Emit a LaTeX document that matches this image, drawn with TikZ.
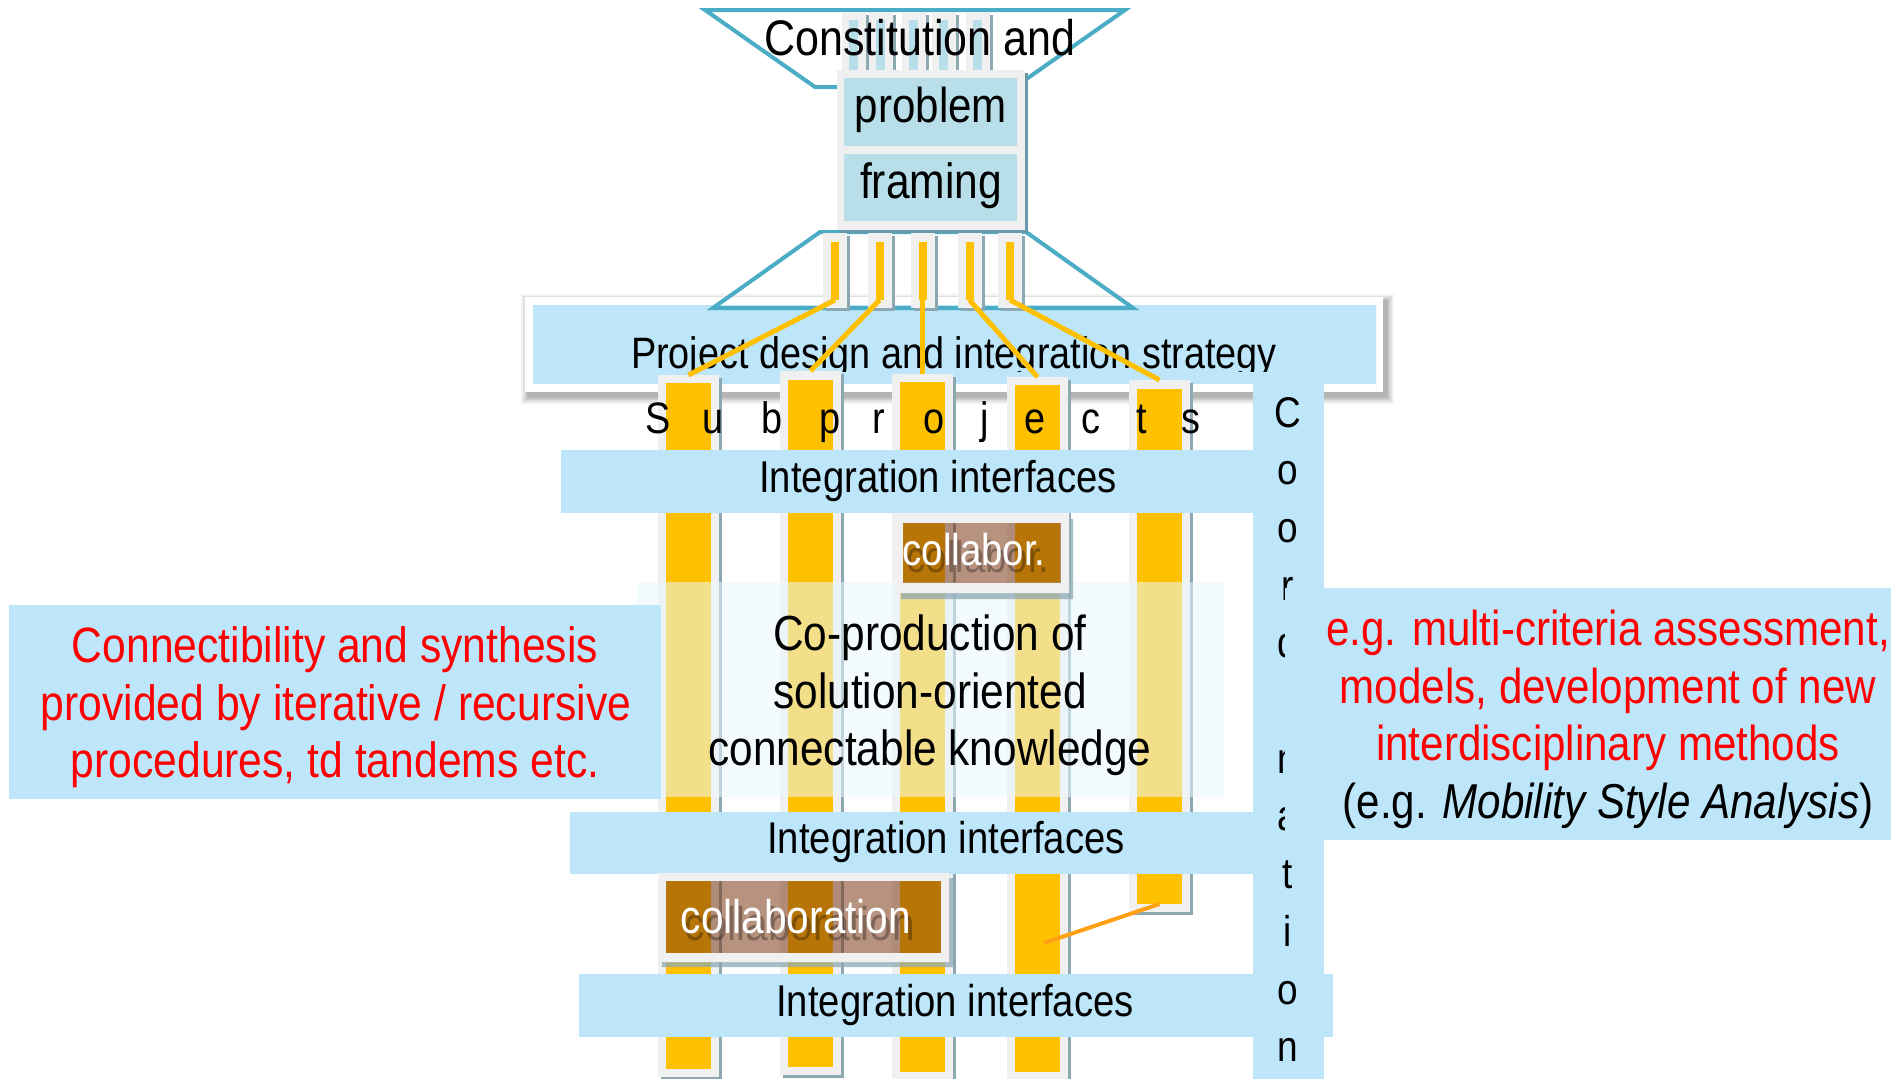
\documentclass[tikz,border=0pt]{standalone}
\usepackage{fontspec}
\setmainfont{Liberation Sans}[FakeStretch=0.86]
\usetikzlibrary{fit,shadows}

\definecolor{bandblue}{RGB}{189,230,250}
\definecolor{frameblue}{RGB}{184,223,233}
\definecolor{trapteal}{RGB}{75,172,198}
\definecolor{panelgray}{RGB}{240,240,240}
\definecolor{edgeshade}{RGB}{140,168,178}
\definecolor{boxshade}{RGB}{105,152,168}
\definecolor{bargold}{RGB}{255,192,0}
\definecolor{linkorange}{RGB}{255,160,20}
\definecolor{veilwhite}{RGB}{233,248,254}
\definecolor{clay}{RGB}{120,52,14}
\definecolor{alertred}{RGB}{255,0,0}

\newcommand\px[1]{\fontsize{#1}{#1}\selectfont}

\tikzset{
  plain/.style={inner sep=0pt, outer sep=0pt},
  panel/.style={plain, fill=panelgray},
  barshade/.style={drop shadow={shadow xshift=3pt, shadow yshift=-3pt, fill=edgeshade, opacity=1}},
  gold/.style={plain, fill=bargold},
  band/.style={plain, fill=bandblue},
  trap/.style={draw=trapteal, line width=4pt, line join=miter},
  link/.style={draw=bargold, line width=5pt},
  txt/.style={anchor=base, inner sep=0pt, outer sep=0pt},
}

\begin{document}
\begin{tikzpicture}[x=1pt,y=-1pt]
\useasboundingbox (0,0) rectangle (1891,1079);
\fill[white] (0,0) rectangle (1891,1079);

% project design panel with a soft shadow
\foreach \d/\o in {8/0.05,6/0.07,4/0.09,2/0.11}
  \fill[black,opacity=\o] (525-\d+4,297-\d+5) rectangle (1383+\d+3,392+\d+4);
\node[plain, fill=white, fit={(525,297) (1383,392)}] (design) {};
\node[band, fit={(533,305) (1376,384)}] (designin) {};

% funnels above and below the framing block
\draw[trap] (820,232) -- (1026,232) -- (1133,308) -- (713,308) -- cycle;
\draw[trap] (705,10) -- (1125,10) -- (1015,87) -- (815,87) -- cycle;

% upper tabs
\foreach \c [count=\i] in {854,881,914,944,978} {
  \node[panel, barshade, fit={(\c-12,12) (\c+12,70)}] (uptab\i) {};
  \node[plain, fill=frameblue, fit={(\c-5,20) (\c+4,70)}] (upin\i) {};
}

% framing block
\node[panel, drop shadow={shadow xshift=3pt, shadow yshift=-3pt, fill=boxshade, opacity=1},
      fit={(837,70) (1025,230)}] (frame) {};
\node[plain, fill=frameblue, fit={(844,78) (1017,146)}] (frameA) {};
\node[plain, fill=frameblue, fit={(844,154) (1017,221)}] (frameB) {};

% lower tabs
\foreach \c [count=\i] in {835,879.5,922.5,969.5,1010} {
  \node[panel, barshade, fit={(\c-12,233) (\c+12,308)}] (lowtab\i) {};
  \node[gold, fit={(\c-4,242) (\c+4,300)}] (tabgold\i) {};
}

\node[txt, font=\px{50}] (constit) at (920,55) {Constitution and};
\node[txt, font=\px{49}] (problem) at (931,122) {problem};
\node[txt, font=\px{49.5}] (framing) at (931,198) {framing};

\begin{scope}
  \clip (525,297) rectangle (1383,371);
  \node[txt, font=\px{44}] (designtxt) at (954,368) {Project design and integration strategy};
\end{scope}

% subproject bars
\foreach \i/\l/\t/\b/\yt/\yb in {1/658/375/1077/383/1069, 2/780/371/1075/380/1067,
    3/892/374/1080/382/1072, 4/1007/377/1080/385/1072, 5/1129/380/912/389/904} {
  \node[panel, barshade, fit={(\l,\t) (\l+61,\b)}] (bar\i) {};
  \node[gold, fit={(\l+8,\yt) (\l+53,\yb)}] (bary\i) {};
}

\foreach \i in {1,...,5}
  \draw[link] (tabgold\i.south) -- (bar\i.north);

\foreach \ch/\x [count=\i] in {S/658,u/713,b/772,p/830,r/879,o/934,j/985,e/1035,c/1091,t/1142,s/1191}
  \node[txt, font=\px{44}] (sub\i) at (\x,433) {\ch};

% first interface band
\node[band, fit={(561,450) (1253,513)}] (iface1) {};
\node[txt, font=\px{44.5}] (iface1txt) at (938,492) {Integration interfaces};

% translucent co-production field
\node[plain, fill=veilwhite, fill opacity=0.54, fit={(637,582) (1224,797)}] (field) {};
\node[txt, font=\px{49.3}] (co1) at (930,650) {Co-production of};
\node[txt, font=\px{49.3}] (co2) at (930,708) {solution-oriented};
\node[txt, font=\px{49.3}] (co3) at (930,765) {connectable knowledge};

% small collaboration box
\fill[edgeshade, opacity=0.75, even odd rule] (901,519) rectangle (1073,599) (897,513) rectangle (1069,593);
\node[plain, fit={(897,513) (1069,593)}] (collabA) {};
\fill[panelgray, even odd rule] (collabA.north west) rectangle (collabA.south east) (903,523) rectangle (1061,583);
\node[plain, fill=clay, fill opacity=0.53, fit={(903,523) (1061,583)}] (collabAin) {};
\node[txt, font=\px{44.6}, text=black, text opacity=0.3] (collabAsh) at (978,572) {collabor.};
\node[txt, font=\px{44.6}, text=white] (collabAtxt) at (974,565) {collabor.};

% left note
\node[band, fit={(9,605) (661,799)}] (leftnote) {};
\node[txt, font=\px{49.6}, text=alertred] (ln1) at (335,662) {Connectibility and synthesis};
\node[txt, font=\px{49.6}, text=alertred] (ln2) at (336,720) {provided by iterative / recursive};
\node[txt, font=\px{49.6}, text=alertred] (ln3) at (335,777) {procedures, td tandems etc.};

% second interface band
\node[band, fit={(570,812) (1253,874)}] (iface2) {};
\node[txt, font=\px{44.5}] (iface2txt) at (946,853) {Integration interfaces};

% large collaboration box
\fill[edgeshade, opacity=0.75, even odd rule] (662,878) rectangle (953,967) (658,873) rectangle (949,962);
\node[plain, fit={(658,873) (949,962)}] (collabB) {};
\fill[panelgray, even odd rule] (collabB.north west) rectangle (collabB.south east) (666,881) rectangle (941,953);
\node[plain, fill=clay, fill opacity=0.53, fit={(666,881) (941,953)}] (collabBin) {};
\node[txt, font=\px{47.2}, text=black, text opacity=0.3] (collabBsh) at (800,940) {collaboration};
\node[txt, font=\px{47.2}, text=white] (collabBtxt) at (796,933) {collaboration};

% link from the short bar into its neighbour
\coordinate (barhit) at (1044,943);
\draw[draw=linkorange, line width=4pt] (bary5.south) -- (barhit);

% third interface band
\node[band, fit={(579,974) (1333,1037)}] (iface3) {};
\node[txt, font=\px{44.5}] (iface3txt) at (955,1016) {Integration interfaces};

% coordination column
\node[band, fit={(1253,384) (1324,1079)}] (coord) {};
\foreach \ch [count=\i from 0] in {C,o,o,r,d,i,n,a,t,i,o,n}
  \node[txt, font=\px{43}] (coo\i) at (1288,{427+57.7*\i}) {\ch};

% right note
\node[band, fit={(1285,588) (1891,840)}] (rightnote) {};
\node[txt, font=\px{49}, text=alertred] (rn1) at (1608,645) {e.g. multi-criteria assessment,};
\node[txt, font=\px{49}, text=alertred] (rn2) at (1608,703) {models, development of new};
\node[txt, font=\px{49}, text=alertred] (rn3) at (1608,760) {interdisciplinary methods};
\node[txt, font=\px{49}] (rn4) at (1608,818) {(e.g. \textit{Mobility Style Analysis})};
\end{tikzpicture}
\end{document}
